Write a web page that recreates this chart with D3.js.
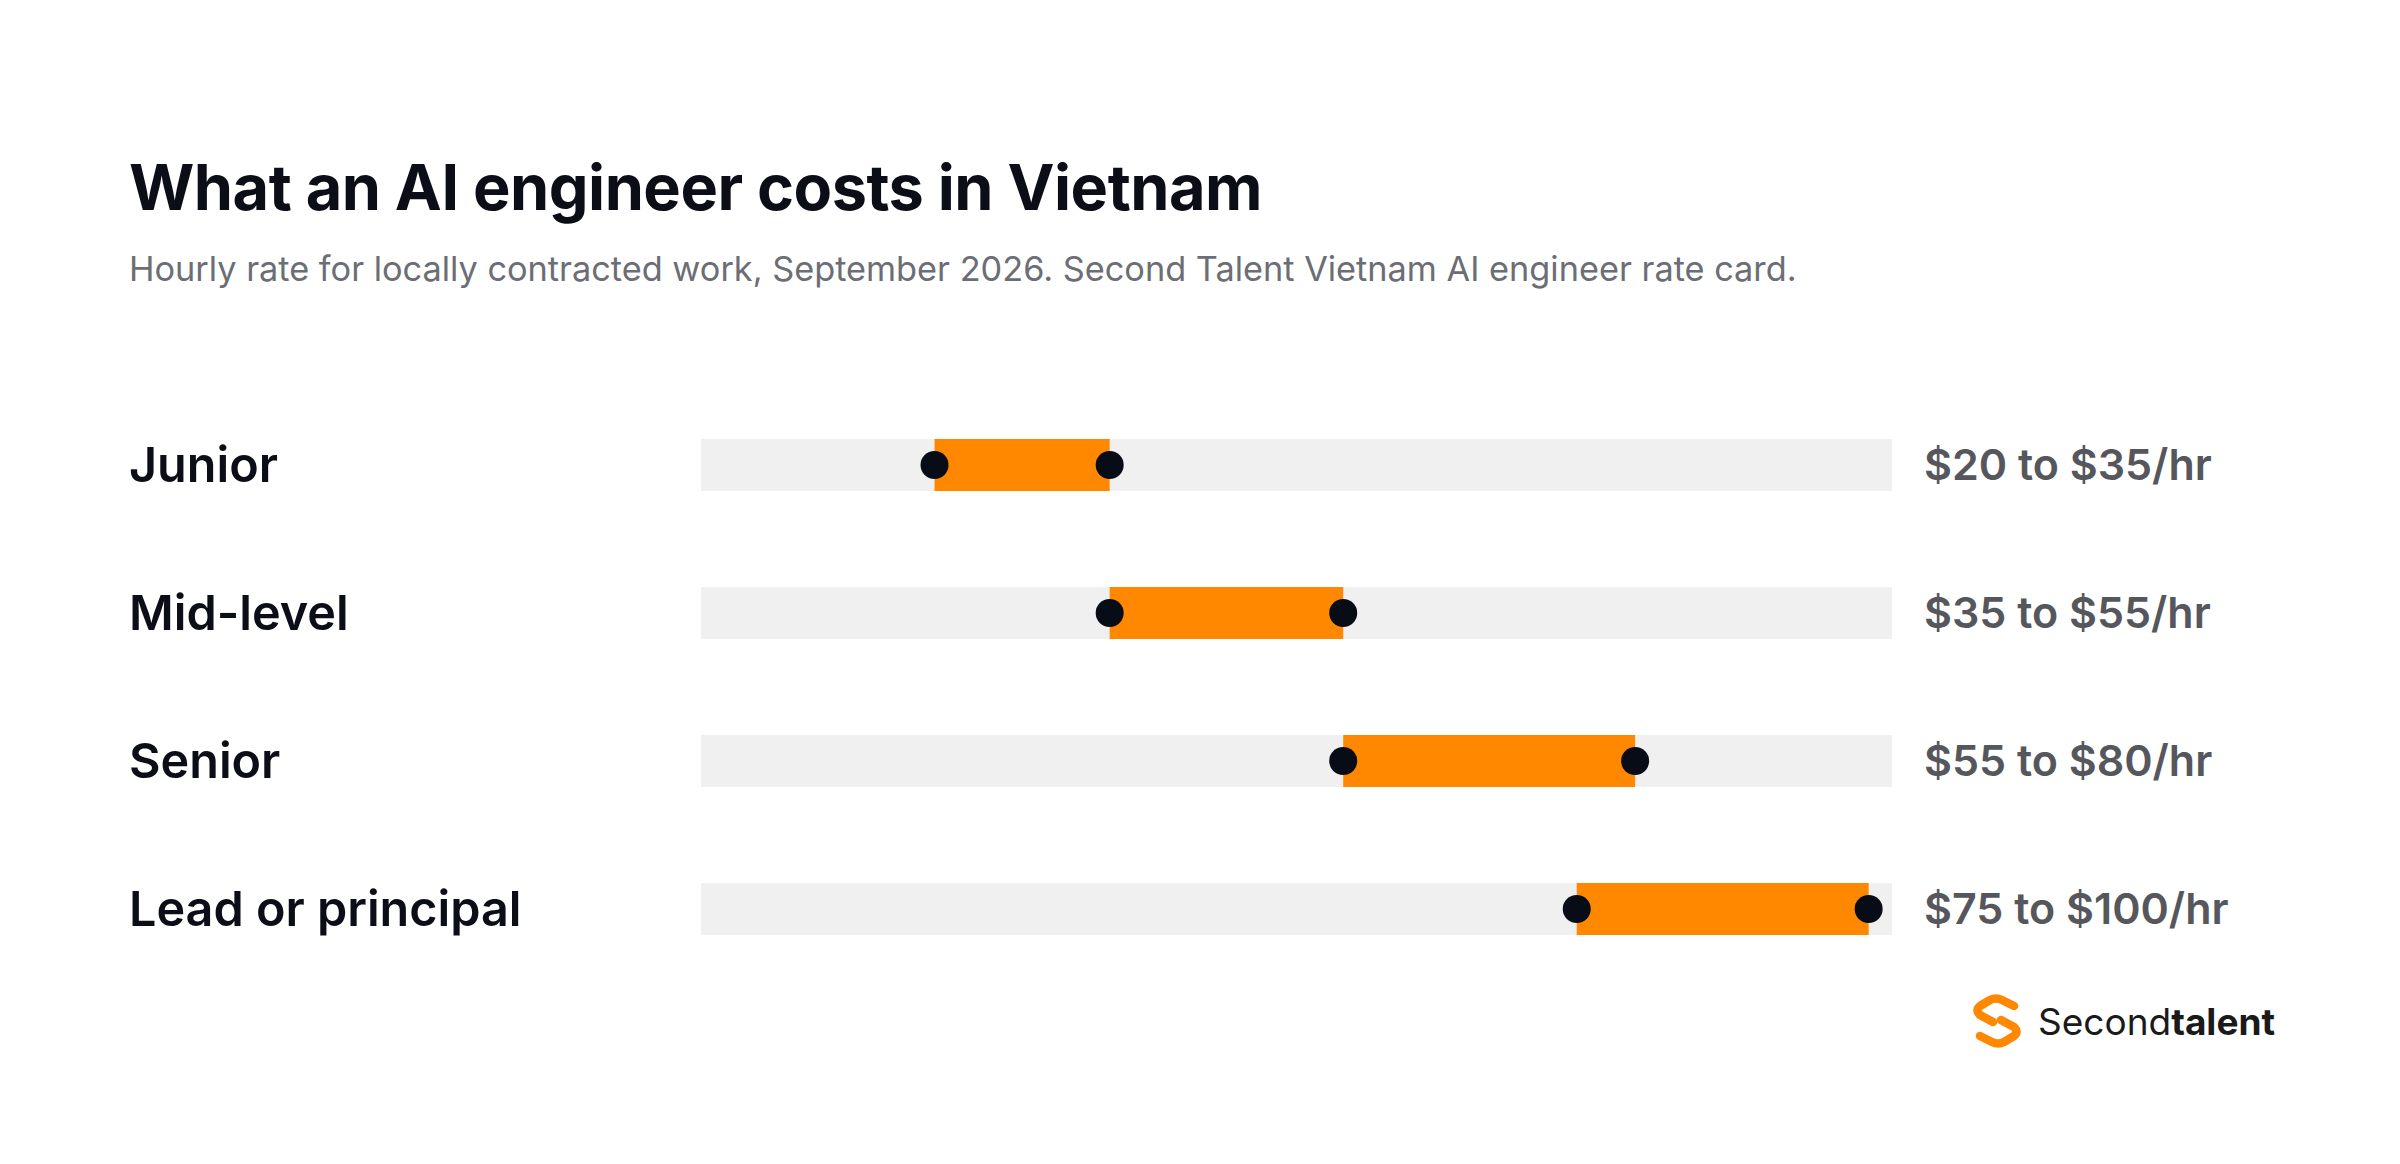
<!DOCTYPE html>
<html>
<head>
<meta charset="utf-8">
<script src="https://cdn.jsdelivr.net/npm/d3@7"></script>
<style>
  html, body { margin: 0; padding: 0; background: #ffffff; }
  svg { display: block; }
</style>
</head>
<body>
<svg id="chart" width="2400" height="1164"></svg>
<script>
const levels = ["Junior", "Mid-level", "Senior", "Lead or principal"];
const lowRates = [20, 35, 55, 75];
const highRates = [35, 55, 80, 100];
const rateLabels = ["$20 to $35/hr", "$35 to $55/hr", "$55 to $80/hr", "$75 to $100/hr"];
const axisMax = 102;

const titleText = "What an AI engineer costs in Vietnam";
const subtitleText = "Hourly rate for locally contracted work, September 2026. Second Talent Vietnam AI engineer rate card.";

const rows = levels.map((l, i) => ({ level: l, low: lowRates[i], high: highRates[i], label: rateLabels[i] }));

const svg = d3.select("#chart");
svg.append("rect").attr("width", 2400).attr("height", 1164).attr("fill", "#ffffff");

const x = d3.scaleLinear().domain([0, axisMax]).range([701, 1892]);
const y = d3.scalePoint().domain(levels).range([465, 909]);
const barH = 52;
const font = "Inter, 'Noto Sans', sans-serif";

svg.append("text")
  .attr("x", 129).attr("y", 210)
  .attr("font-family", font).attr("font-weight", 700).attr("font-size", 63)
  .attr("fill", "#0b0e17").attr("letter-spacing", -0.5)
  .text(titleText);

svg.append("text")
  .attr("x", 129).attr("y", 281)
  .attr("font-family", font).attr("font-weight", 400).attr("font-size", 34.3)
  .attr("fill", "#6b6e75")
  .text(subtitleText);

const g = svg.append("g");
const row = g.selectAll("g.row").data(rows).join("g").attr("class", "row");

row.append("rect")
  .attr("x", x(0)).attr("width", x(axisMax) - x(0))
  .attr("y", d => y(d.level) - barH / 2).attr("height", barH)
  .attr("fill", "#eff0ef");

row.append("rect")
  .attr("x", d => x(d.low)).attr("width", d => x(d.high) - x(d.low))
  .attr("y", d => y(d.level) - barH / 2).attr("height", barH)
  .attr("fill", "#ff8800");

row.selectAll("circle").data(d => [{v: d.low, l: d.level}, {v: d.high, l: d.level}]).join("circle")
  .attr("cx", d => x(d.v)).attr("cy", d => y(d.l)).attr("r", 14)
  .attr("fill", "#080c16");

row.append("text")
  .attr("x", 129).attr("y", d => y(d.level)).attr("dy", "0.36em")
  .attr("font-family", font).attr("font-weight", 600).attr("font-size", 48.5)
  .attr("fill", "#0b0e17")
  .text(d => d.level);

row.append("text")
  .attr("x", 1924).attr("y", d => y(d.level)).attr("dy", "0.36em")
  .attr("font-family", font).attr("font-weight", 600).attr("font-size", 43)
  .attr("fill", "#55575d")
  .text(d => d.label);

// Logo
const logo = svg.append("g").attr("transform", "translate(1972,996)");
logo.append("path")
  .attr("d", "M42,10 L30,4 Q24,1 18,4 L8,10 Q3,14 8,19 L21,26")
  .attr("fill", "none").attr("stroke", "#ff8800").attr("stroke-width", 8.5)
  .attr("stroke-linecap", "round").attr("stroke-linejoin", "round");
logo.append("path")
  .attr("d", "M8,40 L20,46 Q26,49 32,46 L42,40 Q47,36 42,31 L29,24")
  .attr("fill", "none").attr("stroke", "#ff8800").attr("stroke-width", 8.5)
  .attr("stroke-linecap", "round").attr("stroke-linejoin", "round");
const lt = svg.append("text")
  .attr("x", 2038).attr("y", 1035)
  .attr("font-family", font).attr("font-size", 37).attr("fill", "#1a1a1a");
lt.append("tspan").attr("font-weight", 400).text("Second");
lt.append("tspan").attr("font-weight", 700).text("talent");
</script>
</body>
</html>
